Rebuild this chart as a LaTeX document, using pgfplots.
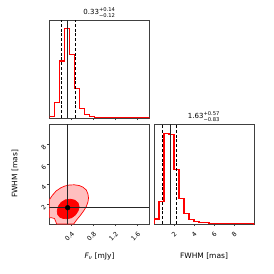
\documentclass[border=0pt]{standalone}
\usepackage{fontspec}
\setmainfont{DejaVu Sans}
\usepackage{amsmath}
\usepackage{pgfplots}
\pgfplotsset{compat=1.18}
\newcommand{\scr}[1]{\mbox{\fontsize{5.2}{6}\selectfont #1}}
\pgfplotsset{
  every axis title shift=0pt,
  cornerax/.style={
    scale only axis, anchor=south west,
    axis line style={black!75, line width=0.6pt},
    tick align=outside, major tick length=2pt,
    every tick/.style={black!75, line width=0.5pt},
    ticklabel style={font=\fontsize{6.3}{7}\selectfont},
    /pgf/number format/assume math mode=true,
    xtick pos=bottom, ytick pos=left,
    label style={font=\fontsize{7.5}{8.5}\selectfont},
    title style={font=\fontsize{7}{8}\selectfont, at={(axis description cs:0.5,1.0)}, anchor=center, yshift=7.5pt},
  },
  histstep/.style={red, line width=1.1pt, const plot mark left},
  qline/.style={black, line width=0.7pt, dash pattern=on 3pt off 1.8pt},
  tline/.style={black!85, line width=0.8pt},
}
\begin{document}
\begin{tikzpicture}
\path[use as bounding box] (0,0) rectangle (274pt,274pt);

% ---------- top-left: F_nu histogram ----------
\begin{axis}[cornerax, at={(49.5pt,156pt)}, width=100pt, height=98pt,
  xmin=0, xmax=1.82, ymin=0, ymax=1.1,
  xtick={0.4,0.8,1.2,1.6}, xticklabels={}, ytick=\empty,
  title={0.33$^{\scr{+0.14}}_{\scr{−0.12}}$}]
\addplot[histstep] coordinates {
(0,0) (0,0.015) (0.091,0.17) (0.182,0.64) (0.273,1.0) (0.364,0.71)
(0.455,0.33) (0.546,0.11) (0.637,0.035) (0.728,0.012) (0.819,0.006)
(0.910,0.004) (1.001,0.003) (1.092,0.002) (1.183,0.002) (1.274,0.002)
(1.365,0.001) (1.456,0.001) (1.547,0.001) (1.638,0.001) (1.729,0.001)
(1.82,0.001) (1.82,0)};
\addplot[qline] coordinates {(0.21,0) (0.21,1.1)};
\addplot[qline] coordinates {(0.47,0) (0.47,1.1)};
\addplot[tline] coordinates {(0.33,0) (0.33,1.1)};
\end{axis}

% ---------- bottom-left: 2D contours ----------
\begin{axis}[cornerax, at={(49.5pt,50pt)}, width=100pt, height=100pt,
  xmin=0, xmax=1.82, ymin=0, ymax=10,
  xtick={0.4,0.8,1.2,1.6}, ytick={2,4,6,8},
  xticklabel style={rotate=45, anchor=north east},
  yticklabel style={rotate=45, anchor=east},
  xlabel={{\itshape F\textsubscript{ν}} [mJy]},
  ylabel={FWHM [mas]},
  x label style={at={(axis description cs:0.5,-0.32)}, anchor=center},
  y label style={at={(axis description cs:-0.345,0.5)}, anchor=center, rotate=0}]
\addplot[fill=red!25, draw=red, line width=0.7pt] coordinates {
(0.00,2.45) (0.05,2.85) (0.12,3.3) (0.20,3.6) (0.28,3.8) (0.36,3.9)
(0.45,3.92) (0.54,3.85) (0.61,3.68) (0.67,3.4) (0.70,3.0) (0.71,2.6)
(0.70,2.2) (0.67,1.75) (0.62,1.3) (0.56,0.85) (0.50,0.45) (0.45,0.08)
(0.44,0.0) (0.13,0.0) (0.11,0.3) (0.09,0.55) (0.04,0.62) (0.00,0.63)
(0.00,2.45)};
\addplot[fill=red, draw=red, line width=0.7pt] coordinates {
(0.14,1.3) (0.15,0.95) (0.19,0.68) (0.25,0.55) (0.32,0.52) (0.40,0.62)
(0.47,0.9) (0.52,1.3) (0.54,1.7) (0.52,2.1) (0.46,2.38) (0.38,2.48)
(0.29,2.42) (0.21,2.15) (0.16,1.75) (0.14,1.3)};
\addplot[tline] coordinates {(0.33,0) (0.33,10)};
\addplot[tline] coordinates {(0,1.63) (1.82,1.63)};
\addplot[only marks, mark=*, mark size=2.4pt, black] coordinates {(0.33,1.63)};
\end{axis}

% ---------- bottom-right: FWHM histogram ----------
\begin{axis}[cornerax, at={(154pt,50pt)}, width=100pt, height=100pt,
  xmin=0, xmax=10, ymin=0, ymax=1.1,
  xtick={2,4,6,8}, ytick=\empty,
  xticklabel style={rotate=45, anchor=north east},
  xlabel={FWHM [mas]},
  x label style={at={(axis description cs:0.5,-0.32)}, anchor=center},
  title={1.63$^{\scr{+0.57}}_{\scr{−0.83}}$}]
\addplot[histstep] coordinates {
(0,0) (0,0.055) (0.5,0.25) (1.0,1.0) (1.5,0.98) (2.0,0.6) (2.5,0.28)
(3.0,0.12) (3.5,0.05) (4.0,0.025) (4.5,0.015) (5.0,0.012) (5.5,0.01)
(6.0,0.008) (6.5,0.006) (7.0,0.005) (7.5,0.004) (8.0,0.004) (8.5,0.003)
(9.0,0.003) (9.5,0.003) (10,0.003) (10,0)};
\addplot[qline] coordinates {(0.80,0) (0.80,1.1)};
\addplot[qline] coordinates {(2.20,0) (2.20,1.1)};
\addplot[tline] coordinates {(1.63,0) (1.63,1.1)};
\end{axis}
\end{tikzpicture}
\end{document}
